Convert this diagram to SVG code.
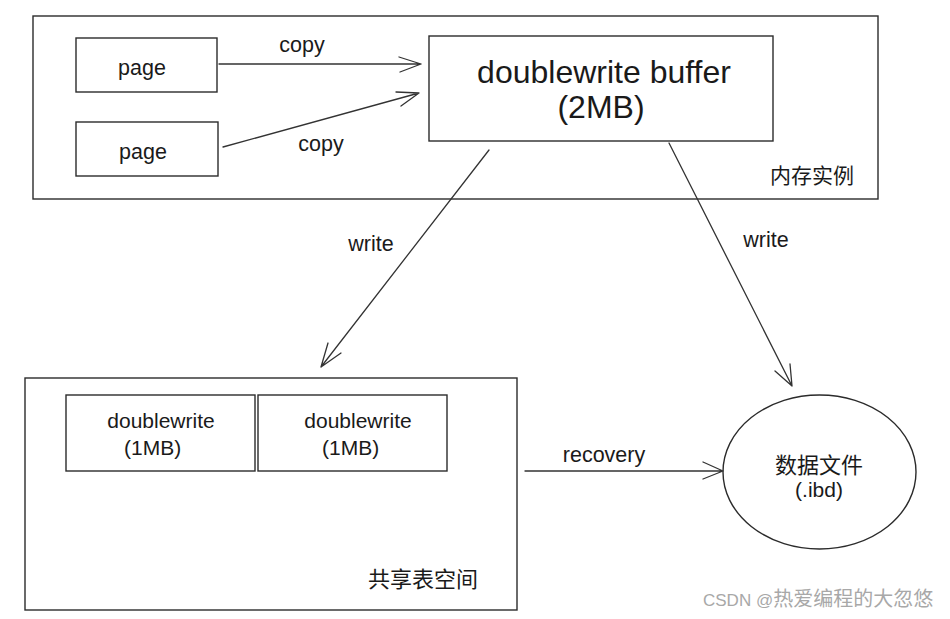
<svg xmlns="http://www.w3.org/2000/svg" width="950" height="619" viewBox="0 0 950 619">
<style>
.box{fill:none;stroke:#2b2b2b;stroke-width:1.4}
.ln{fill:none;stroke:#333;stroke-width:1.3;stroke-linecap:round;stroke-linejoin:round}
.t{font-family:"Liberation Sans",Arial,"Noto Sans CJK SC",sans-serif;fill:#1a1a1a}
.c{font-family:"Noto Sans CJK SC","Liberation Sans",sans-serif;fill:#1a1a1a}
</style>
<rect width="950" height="619" fill="#fff"/>
<g id="memory">
<rect class="box" x="33" y="16" width="845" height="183"/>
<text class="c" x="770" y="183" font-size="21">内存实例</text>
</g>
<g id="page1">
<rect class="box" x="76" y="38" width="141" height="54"/>
<text class="t" x="142" y="75" font-size="21.5" text-anchor="middle">page</text>
</g>
<g id="page2">
<rect class="box" x="76" y="122" width="142" height="54"/>
<text class="t" x="143" y="159" font-size="21.5" text-anchor="middle">page</text>
</g>
<g id="buffer">
<rect class="box" x="429" y="36" width="344" height="105"/>
<text class="t" x="604" y="83" font-size="32" text-anchor="middle">doublewrite buffer</text>
<text class="t" x="601" y="118" font-size="32" text-anchor="middle">(2MB)</text>
</g>
<g id="shared">
<rect class="box" x="25" y="378" width="492" height="232"/>
<text class="c" x="368" y="587" font-size="22">共享表空间</text>
</g>
<g id="dw1">
<rect class="box" x="66" y="395" width="189" height="76"/>
<text class="t" x="161" y="428" font-size="21" text-anchor="middle">doublewrite</text>
<text class="t" x="124" y="455" font-size="21">(1MB)</text>
</g>
<g id="dw2">
<rect class="box" x="258" y="395" width="189" height="76"/>
<text class="t" x="358" y="428" font-size="21" text-anchor="middle">doublewrite</text>
<text class="t" x="322" y="455" font-size="21">(1MB)</text>
</g>
<g id="datafile">
<ellipse class="box" cx="819.5" cy="472" rx="96.5" ry="77"/>
<text class="c" x="819" y="473" font-size="22" text-anchor="middle">数据文件</text>
<text class="t" x="819" y="497" font-size="21" text-anchor="middle">(.ibd)</text>
</g>
<g id="connectors">
<path class="ln" d="M219 64 L421 64 M399 57 L421 64 L400 72"/>
<path class="ln" d="M223 147 L419 93 M396 92 L419 93 L401 106"/>
<path class="ln" d="M489 150 L321 367 M328 343 L321 367 L341 353"/>
<path class="ln" d="M669 143 L792 386 M790 364 L792 386 L775 371"/>
<path class="ln" d="M525 471 L723 471 M703 462 L723 471 L703 479"/>
<text class="t" x="302" y="52" font-size="21.5" text-anchor="middle">copy</text>
<text class="t" x="321" y="151" font-size="21.5" text-anchor="middle">copy</text>
<text class="t" x="371" y="251" font-size="21.5" text-anchor="middle">write</text>
<text class="t" x="766" y="247" font-size="21.5" text-anchor="middle">write</text>
<text class="t" x="604" y="462" font-size="21.5" text-anchor="middle">recovery</text>
</g>
<text x="703" y="606" font-family="Liberation Sans,Arial,Noto Sans CJK SC,sans-serif" font-size="17" fill="#a8a8a8">CSDN @<tspan font-family="Noto Sans CJK SC,sans-serif" font-size="20">热爱编程的大忽悠</tspan></text>
</svg>
